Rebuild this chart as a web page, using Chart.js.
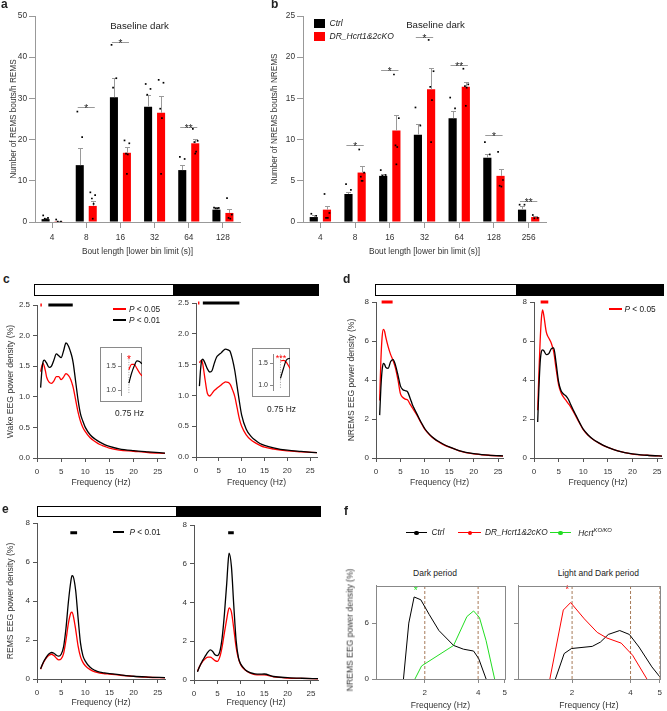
<!DOCTYPE html>
<html>
<head>
<meta charset="utf-8">
<script src="https://cdn.jsdelivr.net/npm/chart.js@4.4.1/dist/chart.umd.min.js"></script>
<style>
  body { margin: 0; width: 667px; height: 711px; position: relative; overflow: hidden; background: #fff;
         font-family: "Liberation Sans", Arial, sans-serif; color: #222; }
  canvas { position: absolute; }
  .t { position: absolute; white-space: nowrap; line-height: 1; }
  .hbar { position: absolute; border: 1px solid #000; background: #000; box-sizing: border-box; }
  .hbar div { background: #fff; height: 100%; }
  .blk { position: absolute; }
  .inset { position: absolute; border: 1px solid #8a8a8a; box-sizing: border-box; }
  sup { font-size: 70%; vertical-align: 4px; }
</style>
</head>
<body>
<div class="hbar" style="left:34px;top:284px;width:285px;height:12px"><div style="width:138px"></div></div>
<div class="hbar" style="left:375px;top:284px;width:289px;height:12px"><div style="width:140px"></div></div>
<div class="hbar" style="left:37px;top:506px;width:284px;height:11px"><div style="width:138px"></div></div>
<div class="inset" style="left:100px;top:347px;width:42px;height:55px"></div>
<div class="inset" style="left:252px;top:348px;width:38px;height:49px"></div>
<script>
// ---- a: REMS bouts (baseline dark) ----
const remsBins = ['4', '8', '16', '32', '64', '128'];
const remsCtrl = [0.7, 13.8, 30.3, 28.0, 12.6, 3.0];
const remsKO = [0.2, 3.9, 16.8, 26.5, 19.1, 2.2];
const remsCtrlSem = [0.3, 4.2, 4.7, 2.9, 1.3, 0.6];
const remsKOSem = [0.1, 1.1, 1.4, 4.1, 1.0, 0.9];
const remsCtrlPts = [[1.6, 1.0, 0.8, 0.6], [26.8, 20.6, 4.5, 3.3], [43, 34.9, 32.6, 10.7], [33.5, 32.3, 30.9, 15.3], [15.8, 15.3, 10.5, 8.8], [3.5, 3.4, 3.3, 3.3]];
const remsKOPts = [[0.6, 0.1, 0.1], [7.2, 6.5, 5.7, 4.4, 0.8], [19.8, 19.1, 16.6, 16.4, 11.7], [34.5, 33.8, 27.5, 25.2, 11.7], [22.6, 19.7, 19.4, 17.1, 16.6], [5.8, 1.8, 1.0, 0.8]];
const remsSigBin = [1, 2, 4];
const remsSigY = [27.9, 43.7, 23.1];
const remsSigTxt = ['*', '*', '**'];

// ---- b: NREMS bouts (baseline dark) ----
const nremsBins = ['4', '8', '16', '32', '64', '128', '256'];
const nremsCtrl = [0.6, 3.4, 5.6, 10.6, 12.6, 7.8, 1.5];
const nremsKO = [1.5, 6.0, 11.1, 16.1, 16.4, 5.6, 0.6];
const nremsCtrlSem = [0.2, 0.3, 0.2, 1.3, 0.9, 0.4, 0.4];
const nremsKOSem = [0.5, 0.8, 1.9, 2.6, 0.6, 0.8, 0.1];
const nremsCtrlPts = [[1.0, 0.75, 0.4, 0.3], [4.6, 3.9, 2.8, 2.3], [6.3, 5.7, 5.6, 4.8], [13.9, 11.7, 9.0, 7.8], [15.1, 13.8, 11.5, 10.0], [9.7, 8.2, 7.0, 6.3], [2.1, 2.1, 1.0, 0.8]];
const nremsKOPts = [[3.4, 1.1, 0.5, 0.5], [8.8, 6.0, 5.5, 5.0, 5.0], [17.9, 12.6, 9.3, 9.1, 7.0], [22.1, 18.3, 16.4, 14.8, 9.7], [18.6, 16.7, 16.5, 16.3, 14.1], [8.5, 5.1, 4.4, 4.3], [0.85, 0.5, 0.45]];
const nremsSigBin = [1, 2, 3, 4, 5, 6];
const nremsSigY = [9.4, 18.4, 22.4, 19.1, 10.6, 2.6];
const nremsSigTxt = ['*', '*', '*', '**', '*', '**'];

// ---- c, d, e: EEG spectra (light = left, dark = right) ----
const freq = [0.75, 1, 1.25, 1.5, 1.75, 2, 2.5, 3, 3.5, 4, 4.5, 5, 5.5, 6, 6.5, 7, 7.25, 7.5, 8, 8.5, 9, 9.5, 10, 11, 12, 13, 14, 15, 17, 20, 23, 26.5];
const wakeLightCtrl = [1.15, 1.42, 1.57, 1.6, 1.58, 1.55, 1.48, 1.5, 1.6, 1.7, 1.67, 1.64, 1.75, 1.88, 1.83, 1.72, 1.65, 1.55, 1.25, 0.95, 0.72, 0.6, 0.5, 0.38, 0.31, 0.26, 0.22, 0.19, 0.15, 0.12, 0.1, 0.08];
const wakeLightKO = [1.41, 1.5, 1.55, 1.5, 1.42, 1.32, 1.24, 1.22, 1.26, 1.33, 1.33, 1.28, 1.32, 1.38, 1.35, 1.28, 1.22, 1.15, 0.95, 0.75, 0.6, 0.5, 0.43, 0.33, 0.27, 0.22, 0.19, 0.16, 0.13, 0.11, 0.09, 0.075];
const wakeDarkCtrl = [1.15, 1.42, 1.57, 1.59, 1.56, 1.52, 1.43, 1.38, 1.4, 1.52, 1.62, 1.66, 1.69, 1.73, 1.75, 1.74, 1.73, 1.71, 1.58, 1.4, 1.15, 0.9, 0.68, 0.45, 0.34, 0.27, 0.22, 0.19, 0.15, 0.11, 0.09, 0.07];
const wakeDarkKO = [1.53, 1.56, 1.57, 1.5, 1.38, 1.25, 1.03, 0.99, 1.03, 1.08, 1.11, 1.14, 1.17, 1.2, 1.22, 1.21, 1.2, 1.18, 1.09, 0.98, 0.8, 0.62, 0.5, 0.36, 0.28, 0.23, 0.19, 0.16, 0.13, 0.1, 0.085, 0.07];
const nremLightCtrl = [2.2, 3.6, 4.5, 4.85, 4.8, 4.65, 4.6, 4.95, 5.05, 4.75, 4.25, 3.7, 3.5, 3.45, 3.38, 3.05, 2.88, 2.7, 2.45, 2.2, 1.95, 1.72, 1.5, 1.2, 0.98, 0.82, 0.68, 0.57, 0.38, 0.22, 0.15, 0.1];
const nremLightKO = [2.95, 5.0, 6.2, 6.6, 6.5, 6.2, 5.7, 5.3, 5.0, 4.6, 4.0, 3.3, 3.1, 3.02, 2.97, 2.75, 2.65, 2.55, 2.35, 2.15, 1.9, 1.68, 1.47, 1.18, 0.96, 0.8, 0.66, 0.56, 0.37, 0.21, 0.14, 0.09];
const nremDarkCtrl = [1.85, 3.6, 4.9, 5.45, 5.55, 5.5, 5.3, 5.35, 5.6, 5.65, 4.85, 3.9, 3.45, 3.28, 3.18, 3.0, 2.86, 2.72, 2.45, 2.2, 1.95, 1.7, 1.48, 1.18, 0.96, 0.8, 0.66, 0.55, 0.37, 0.21, 0.14, 0.09];
const nremDarkKO = [2.45, 4.4, 6.0, 7.15, 7.6, 7.3, 6.45, 6.15, 5.9, 5.45, 4.55, 3.75, 3.35, 3.12, 2.95, 2.78, 2.7, 2.6, 2.38, 2.15, 1.9, 1.68, 1.45, 1.16, 0.95, 0.79, 0.65, 0.54, 0.36, 0.2, 0.14, 0.09];
const remLightCtrl = [0.52, 0.68, 0.82, 0.95, 1.05, 1.15, 1.29, 1.36, 1.32, 1.22, 1.17, 1.27, 1.65, 2.6, 3.95, 5.0, 5.3, 5.25, 4.55, 3.15, 1.85, 1.2, 0.92, 0.6, 0.44, 0.35, 0.31, 0.28, 0.22, 0.14, 0.1, 0.07];
const remLightKO = [0.5, 0.66, 0.8, 0.92, 1.02, 1.1, 1.22, 1.27, 1.2, 1.07, 0.98, 1.03, 1.3, 2.0, 2.85, 3.38, 3.43, 3.25, 2.55, 1.7, 1.15, 0.85, 0.68, 0.48, 0.36, 0.3, 0.27, 0.25, 0.2, 0.13, 0.09, 0.065];
const remDarkCtrl = [0.42, 0.58, 0.72, 0.85, 0.97, 1.07, 1.27, 1.45, 1.55, 1.47, 1.3, 1.26, 1.45, 2.15, 3.4, 5.0, 5.95, 6.55, 5.85, 3.85, 2.05, 1.15, 0.82, 0.52, 0.38, 0.32, 0.3, 0.31, 0.18, 0.12, 0.09, 0.07];
const remDarkKO = [0.45, 0.6, 0.72, 0.83, 0.92, 1.0, 1.12, 1.18, 1.18, 1.1, 1.0, 0.96, 1.18, 1.7, 2.45, 3.15, 3.5, 3.72, 3.5, 2.65, 1.7, 1.1, 0.78, 0.5, 0.35, 0.28, 0.26, 0.26, 0.16, 0.1, 0.08, 0.06];

// significant frequency ranges (Hz)
const wakeLightP05 = [0.7, 1.0], wakeLightP01 = [2.35, 7.4];
const wakeDarkP05 = [0.45, 0.75], wakeDarkP01 = [1.5, 9.5];
const nremLightP05 = [1.15, 3.4], nremDarkP05 = [1.35, 2.9];
const remLightP01 = [6.9, 8.3], remDarkP01 = [7.3, 8.5];

// wake insets around 0.75 Hz
const insetLightHz = [0.75, 0.85, 0.95, 1.06, 1.15, 1.25];
const insetLightCtrl = [1.15, 1.35, 1.5, 1.61, 1.6, 1.55];
const insetLightKO = [1.43, 1.54, 1.54, 1.45, 1.37, 1.3];
const insetDarkHz = [0.75, 0.85, 0.95, 1.07];
const insetDarkCtrl = [1.16, 1.38, 1.57, 1.61];
const insetDarkKO = [1.55, 1.56, 1.52, 1.38];

// ---- f: NREMS EEG 0-5 Hz ----
const darkCtrlHz = [1.2, 1.4, 1.6, 1.85, 2.17, 2.53, 3.08, 3.45, 3.83, 4.02, 4.3];
const darkCtrl = [0, 6.0, 8.8, 8.5, 6.9, 5.2, 3.6, 3.2, 3.0, 2.2, 0];
const darkHcrtHz = [1.63, 1.88, 3.08, 3.58, 3.83, 4.05, 4.3, 4.62];
const darkHcrt = [0, 1.4, 3.6, 6.7, 7.3, 6.6, 4.1, 0];
const allKOHz = [1.24, 1.7, 1.95, 2.42, 2.86, 3.19, 3.68, 4.07, 4.56];
const allKO = [0, 7.4, 8.2, 6.45, 5.0, 4.4, 3.85, 2.55, 0];
const allCtrlHz = [1.43, 1.73, 1.98, 2.69, 2.97, 3.24, 3.63, 3.96, 4.29, 4.73, 5.0];
const allCtrl = [0, 2.73, 3.27, 3.5, 3.96, 4.78, 5.2, 4.78, 3.43, 1.3, 0.24];
const darkMarks = [2, 4];
const allMarks = [2, 4, 5];

const RED = '#ff0000', GREEN = '#22dd22', BROWN = '#a87a58';
const AX = '#555', BAX = '#999', GAX = '#888';
const CP = 0.76, BP = 0.62;
const JIT = [-0.07, 0.07, -0.025, 0.025, 0];

Chart.defaults.font.family = '"Liberation Sans", Arial, sans-serif';
Chart.defaults.font.size = 8;
Chart.defaults.color = '#333';
Chart.defaults.plugins.legend.display = false;
Chart.defaults.plugins.tooltip.enabled = false;

// canvas at rect [L,T,W,H]; plot area forced to [left,top,right,bottom]
function mk(rect, area, cfg) {
  const [L, T, W, H] = rect, [aL, aT, aR, aB] = area;
  const c = document.createElement('canvas');
  c.width = W; c.height = H;
  c.style.left = L + 'px'; c.style.top = T + 'px';
  c.style.width = W + 'px'; c.style.height = H + 'px';
  document.body.appendChild(c);
  const o = cfg.options, xs = o.scales.x, ys = o.scales.y;
  const hidX = xs.display === false, hidY = ys.display === false;
  o.responsive = false; o.animation = false; o.devicePixelRatio = 1;
  o.layout = { padding: { left: hidY ? aL - L : 0, top: aT - T, right: L + W - aR, bottom: hidX ? T + H - aB : 0 } };
  if (!hidX) xs.afterFit = s => { s.height = T + H - aB; };
  if (!hidY) ys.afterFit = s => { s.width = aL - L; };
  return new Chart(c, cfg);
}

function txt(html, x, cy, size, align, style) {
  const d = document.createElement('div');
  d.className = 't';
  d.innerHTML = html;
  d.style.fontSize = size + 'px';
  d.style.left = x + 'px';
  d.style.top = (cy - size * 0.49) + 'px';
  if (align === 'c') d.style.transform = 'translateX(-50%)';
  if (style) d.style.cssText += style;
  document.body.appendChild(d);
}
function blk(x, y, w, h, color, extra) {
  const d = document.createElement('div');
  d.className = 'blk';
  d.style.cssText += `left:${x}px;top:${y}px;width:${w}px;height:${h}px;background:${color};` + (extra || '');
  document.body.appendChild(d);
}

function linAxis(min, max, ticks, fmt, title, tpad, color, tickPad) {
  return {
    type: 'linear', min, max,
    afterBuildTicks: s => { s.ticks = ticks.map(v => ({ value: v })); },
    ticks: { color: '#333', font: { size: 8 }, padding: tickPad, autoSkip: false, maxRotation: 0, callback: v => fmt(v) },
    grid: { display: true, drawOnChartArea: false, tickLength: 4, color: color },
    border: { display: true, color: color },
    title: title ? { display: true, text: title, color: '#333', font: { size: 8.6 }, padding: tpad } : { display: false }
  };
}

// error bars + significance brackets, drawn on the dot overlay's linear x scale
function barExtras(p) {
  const off = CP / 4;
  return {
    id: 'barExtras',
    beforeDatasetsDraw(chart) {
      const { ctx, scales: { x, y } } = chart;
      ctx.save();
      ctx.strokeStyle = '#9a9a9a'; ctx.lineWidth = 1;
      [[p.ctrl, p.ctrlSem, -off], [p.ko, p.koSem, off]].forEach(([m, e, o]) => m.forEach((v, i) => {
        const xx = Math.round(x.getPixelForValue(i + o)) + 0.5;
        const y0 = y.getPixelForValue(v), y1 = Math.round(y.getPixelForValue(v + e[i])) + 0.5;
        ctx.beginPath();
        ctx.moveTo(xx, y0); ctx.lineTo(xx, y1);
        ctx.moveTo(xx - 2.5, y1); ctx.lineTo(xx + 2.5, y1);
        ctx.stroke();
      }));
      ctx.restore();
    },
    afterDatasetsDraw(chart) {
      const { ctx, scales: { x, y } } = chart;
      ctx.save();
      ctx.strokeStyle = '#9a9a9a'; ctx.lineWidth = 1;
      ctx.fillStyle = '#222'; ctx.font = '10px "Liberation Sans"';
      ctx.textAlign = 'center'; ctx.textBaseline = 'alphabetic';
      p.sigBin.forEach((b, k) => {
        const yy = Math.round(y.getPixelForValue(p.sigY[k])) + 0.5;
        const x0 = x.getPixelForValue(b - 0.25), x1 = x.getPixelForValue(b + 0.25);
        ctx.beginPath(); ctx.moveTo(x0, yy); ctx.lineTo(x1, yy); ctx.stroke();
        ctx.fillText(p.sigTxt[k], (x0 + x1) / 2, yy + 4);
      });
      ctx.restore();
    }
  };
}

function barChart(rect, area, p) {
  const n = p.bins.length, off = CP / 4;
  const ticks = [];
  for (let v = 0; v <= p.ymax; v += p.ystep) ticks.push(v);
  mk(rect, area, {
    type: 'bar',
    data: {
      labels: p.bins,
      datasets: [
        { data: p.ctrl, backgroundColor: '#000', categoryPercentage: CP, barPercentage: BP },
        { data: p.ko, backgroundColor: RED, categoryPercentage: CP, barPercentage: BP }
      ]
    },
    options: {
      scales: {
        x: {
          type: 'category', offset: true,
          grid: { display: true, offset: false, drawOnChartArea: false, tickLength: 6, color: BAX },
          border: { display: true, color: BAX },
          ticks: { color: '#333', font: { size: 8.3 }, padding: 5 },
          title: { display: true, text: 'Bout length [lower bin limit (s)]', color: '#333', font: { size: 8.3 }, padding: { top: 0, bottom: 5 } }
        },
        y: {
          min: 0, max: p.ymax,
          afterBuildTicks: s => { s.ticks = ticks.map(v => ({ value: v })); },
          grid: { display: true, drawOnChartArea: false, tickLength: 6, color: BAX },
          border: { display: true, color: BAX },
          ticks: { color: '#333', font: { size: 8.3 }, padding: 2 },
          title: { display: true, text: p.ytitle, color: '#333', font: { size: 8.2 }, padding: { top: p.tpad, bottom: 0 } }
        }
      }
    }
  });
  // individual animals, overlaid on the same plot area
  const dots = [];
  p.ctrlPts.forEach((vals, i) => vals.forEach((v, k) => dots.push({ x: i - off + JIT[k], y: v })));
  p.koPts.forEach((vals, i) => vals.forEach((v, k) => dots.push({ x: i + off + JIT[k], y: v })));
  mk(rect, area, {
    type: 'scatter',
    data: { datasets: [{ data: dots, pointStyle: 'rect', pointRadius: 1.2, backgroundColor: '#000', borderWidth: 0 }] },
    options: {
      scales: {
        x: { type: 'linear', display: false, offset: false, min: -0.5, max: n - 0.5 },
        y: { type: 'linear', display: false, min: 0, max: p.ymax }
      }
    },
    plugins: [barExtras(p)]
  });
}

function curve(xs, ys, color, w, smooth) {
  return {
    type: 'line', data: xs.map((x, i) => ({ x, y: ys[i] })), borderColor: color, borderWidth: w,
    pointRadius: 0, fill: false, cubicInterpolationMode: smooth ? 'monotone' : 'default', tension: 0
  };
}
function span(range, yv, color) {
  return { type: 'line', data: range.map(x => ({ x, y: yv })), borderColor: color, borderWidth: 3, pointRadius: 0, clip: false };
}

function specChart(rect, area, p) {
  const ds = [curve(freq, p.ctrl, '#000', 1.3, true), curve(freq, p.ko, RED, 1.3, true)];
  p.spans.forEach(s => ds.push(span(s[0], p.sigY, s[1])));
  return mk(rect, area, {
    type: 'line',
    data: { datasets: ds },
    options: {
      scales: {
        x: linAxis(0, p.xmax, [0, 5, 10, 15, 20, 25], v => String(v), 'Frequency (Hz)', { top: 0, bottom: 3 }, AX, 5),
        y: linAxis(0, p.ymax, p.yticks, p.fmt, p.ytitle, { top: p.tpad, bottom: 0 }, AX, 3)
      }
    }
  });
}

function marks(list) {
  return {
    id: 'marks',
    afterDatasetsDraw(chart) {
      const { ctx, scales: { x, y } } = chart;
      ctx.save();
      ctx.textAlign = 'center'; ctx.textBaseline = 'middle';
      list.forEach(m => {
        ctx.fillStyle = m.c; ctx.font = (m.s || 10) + 'px "Liberation Sans"';
        ctx.fillText(m.t, x.getPixelForValue(m.x), y.getPixelForValue(m.y) + 2);
      });
      ctx.restore();
    }
  };
}

function insetChart(rect, area, hz, ctrl, ko, yr, star) {
  return mk(rect, area, {
    type: 'line',
    data: {
      datasets: [
        curve(hz, ctrl, '#000', 1.2, true),
        curve(hz, ko, RED, 1.2, true),
        { type: 'line', data: [{ x: 0.75, y: 0.95 }, { x: 0.75, y: 1.7 }], borderColor: '#999', borderWidth: 1, borderDash: [1, 1.5], pointRadius: 0 }
      ]
    },
    options: {
      scales: {
        x: { type: 'linear', display: false, min: hz[0] - yr[2], max: hz[hz.length - 1] },
        y: {
          type: 'linear', min: yr[0], max: yr[1],
          afterBuildTicks: s => { s.ticks = [{ value: 1 }, { value: 1.5 }]; },
          ticks: { color: '#333', font: { size: 7 }, padding: 2, callback: v => v.toFixed(1) },
          grid: { display: true, drawOnChartArea: false, tickLength: 3, color: GAX },
          border: { display: true, color: GAX }
        }
      }
    },
    plugins: [marks([star])]
  });
}

function boxPlugin() {
  return {
    id: 'box',
    afterDraw(chart) {
      const { ctx, chartArea: a } = chart;
      ctx.save(); ctx.strokeStyle = GAX; ctx.lineWidth = 1;
      ctx.strokeRect(Math.round(a.left) + 0.5, Math.round(a.top) + 0.5, Math.round(a.right - a.left), Math.round(a.bottom - a.top));
      ctx.restore();
    }
  };
}

function fChart(rect, area, xmin, series, vmarks, star) {
  const ds = series.map(s => curve(s[0], s[1], s[2], 1, false));
  vmarks.forEach(v => ds.push({ type: 'line', data: [{ x: v, y: 0 }, { x: v, y: 10 }], borderColor: BROWN, borderWidth: 1, borderDash: [3, 2], pointRadius: 0 }));
  return mk(rect, area, {
    type: 'line',
    data: { datasets: ds },
    options: {
      scales: {
        x: linAxis(xmin, 5, [2, 4, 5], v => String(v), 'Frequency (Hz)', { top: 0, bottom: 0.5 }, GAX, 5),
        y: linAxis(0, 10, [0, 6], v => String(v), null, null, GAX, 3)
      }
    },
    plugins: [boxPlugin(), marks([star])]
  });
}

// ---- a / b ----
barChart([0, 0, 248, 262], [35, 16, 240, 222], {
  bins: remsBins, ctrl: remsCtrl, ko: remsKO, ctrlSem: remsCtrlSem, koSem: remsKOSem,
  ctrlPts: remsCtrlPts, koPts: remsKOPts, sigBin: remsSigBin, sigY: remsSigY, sigTxt: remsSigTxt,
  ymax: 50, ystep: 10, ytitle: 'Number of REMS bouts/h REMS', tpad: 8.7
});
barChart([262, 0, 290, 262], [303, 16, 546, 222], {
  bins: nremsBins, ctrl: nremsCtrl, ko: nremsKO, ctrlSem: nremsCtrlSem, koSem: nremsKOSem,
  ctrlPts: nremsCtrlPts, koPts: nremsKOPts, sigBin: nremsSigBin, sigY: nremsSigY, sigTxt: nremsSigTxt,
  ymax: 25, ystep: 5, ytitle: 'Number of NREMS bouts/h NREMS', tpad: 8.2
});

// ---- c ----
const f1 = v => v.toFixed(1), f0 = v => String(v);
specChart([0, 290, 170, 201], [37, 305, 165, 458], {
  ctrl: wakeLightCtrl, ko: wakeLightKO, spans: [[wakeLightP05, RED], [wakeLightP01, '#000']], sigY: 2.5,
  xmax: 26.5, ymax: 2.5, yticks: [0, 0.5, 1, 1.5, 2, 2.5], fmt: f1, ytitle: 'Wake EEG power density (%)', tpad: 5.2
});
specChart([172, 290, 150, 201], [196, 303, 317, 457], {
  ctrl: wakeDarkCtrl, ko: wakeDarkKO, spans: [[wakeDarkP05, RED], [wakeDarkP01, '#000']], sigY: 2.5,
  xmax: 26.5, ymax: 2.5, yticks: [0, 0.5, 1, 1.5, 2, 2.5], fmt: f1, ytitle: null
});
insetChart([100, 347, 42, 55], [121, 347, 142, 402], insetLightHz, insetLightCtrl, insetLightKO, [0.89, 1.77, 0.3],
  { x: 0.75, y: 1.66, t: '*', c: RED, s: 10 });
insetChart([252, 348, 38, 49], [273, 348, 290, 397], insetDarkHz, insetDarkCtrl, insetDarkKO, [0.883, 1.7, 0.25],
  { x: 0.77, y: 1.65, t: '***', c: RED, s: 9 });

// ---- d ----
specChart([340, 290, 170, 201], [376, 302, 503, 458], {
  ctrl: nremLightCtrl, ko: nremLightKO, spans: [[nremLightP05, RED]], sigY: 8,
  xmax: 26, ymax: 8, yticks: [0, 2, 4, 6, 8], fmt: f0, ytitle: 'NREMS EEG power density (%)', tpad: 6.2
});
specChart([510, 290, 157, 201], [534, 302, 662, 458], {
  ctrl: nremDarkCtrl, ko: nremDarkKO, spans: [[nremDarkP05, RED]], sigY: 8,
  xmax: 26, ymax: 8, yticks: [0, 2, 4, 6, 8], fmt: f0, ytitle: null
});

// ---- e ----
specChart([0, 512, 170, 199], [37, 523, 165, 679], {
  ctrl: remLightCtrl, ko: remLightKO, spans: [[remLightP01, '#000']], sigY: 7.5,
  xmax: 26.5, ymax: 8, yticks: [0, 2, 4, 6, 8], fmt: f0, ytitle: 'REMS EEG power density (%)', tpad: 5.2
});
specChart([172, 512, 150, 199], [194, 525, 318, 680], {
  ctrl: remDarkCtrl, ko: remDarkKO, spans: [[remDarkP01, '#000']], sigY: 7.6,
  xmax: 26.5, ymax: 8, yticks: [0, 2, 4, 6, 8], fmt: f0, ytitle: null
});

// ---- f ----
fChart([340, 578, 172, 133], [376, 583, 506, 679], 0.17,
  [[darkCtrlHz, darkCtrl, '#000'], [darkHcrtHz, darkHcrt, GREEN]], darkMarks,
  { x: 1.66, y: 9.6, t: '*', c: GREEN, s: 10 });
fChart([512, 578, 155, 133], [518, 583, 665, 679], 0.15,
  [[allKOHz, allKO, RED], [allCtrlHz, allCtrl, '#000']], allMarks,
  { x: 1.83, y: 9.7, t: '*', c: RED, s: 10 });

// ---- text, legends ----
const L = 'font-weight:bold;';
txt('a', 1, 3.7, 12, 'l', L);
txt('b', 271, 3.5, 12, 'l', L);
txt('c', 3, 278.5, 12, 'l', L);
txt('d', 343, 278.5, 12, 'l', L);
txt('e', 2, 509, 12, 'l', L);
txt('f', 344, 511, 12, 'l', L);

txt('Baseline dark', 139.5, 25.5, 9.7, 'c');
txt('Baseline dark', 435.5, 24.5, 9.7, 'c');
blk(313.5, 18.5, 11.5, 9, '#000');
blk(313.5, 32, 11.5, 9, RED);
txt('Ctrl', 329.5, 23, 8.5, 'l', 'font-style:italic;');
txt('DR_Hcrt1&amp;2cKO', 329.5, 36.5, 8.5, 'l', 'font-style:italic;');

blk(113, 308, 13, 2.2, RED);
txt('<i>P</i> &lt; 0.05', 129, 309, 8.3, 'l');
blk(113, 319, 13, 2.2, '#000');
txt('<i>P</i> &lt; 0.01', 129, 320, 8.3, 'l');
txt('0.75 Hz', 129.5, 413, 8.4, 'c');
txt('0.75 Hz', 281.5, 409, 8.4, 'c');

blk(609, 308, 13, 2.2, RED);
txt('<i>P</i> &lt; 0.05', 624.5, 309, 8.3, 'l');
blk(113, 531, 11, 2.4, '#000');
txt('<i>P</i> &lt; 0.01', 129.5, 532, 8.3, 'l');

blk(406, 532, 21, 1, '#000');
blk(414, 530.5, 4.5, 4.5, '#000', 'border-radius:50%;');
txt('Ctrl', 431.5, 532.5, 8.3, 'l', 'font-style:italic;');
blk(458, 532, 23, 1, RED);
blk(467.5, 530.5, 4.5, 4.5, RED, 'border-radius:50%;');
txt('DR_Hcrt1&amp;2cKO', 485, 532.5, 8.3, 'l', 'font-style:italic;');
blk(550, 532, 21, 1, GREEN);
blk(558, 530.5, 4.5, 4.5, GREEN, 'border-radius:50%;');
txt('Hcrt<sup>KO/KO</sup>', 578.3, 532.5, 8.3, 'l', 'font-style:italic;');

txt('Dark period', 435, 572.7, 8.5, 'c');
txt('Light and Dark period', 598.3, 572.7, 8.5, 'c');
txt('NREMS EEG power density (%)', 350, 630, 8.6, 'l',
  'color:#333;transform:translate(-50%,-50%) rotate(-90deg);top:630px;');
</script>
</body>
</html>
